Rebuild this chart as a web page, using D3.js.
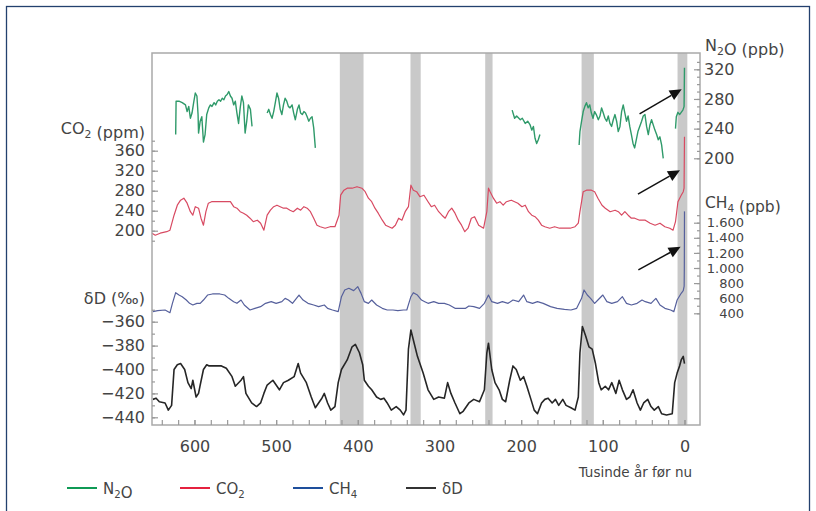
<!DOCTYPE html>
<html>
<head>
<meta charset="utf-8">
<script src="https://cdn.jsdelivr.net/npm/d3@7"></script>
<style>
  body { margin: 0; background: #fff; }
  text { font-family: "DejaVu Sans", "Noto Sans", sans-serif; fill: #444; }
</style>
</head>
<body>
<div id="chart"></div>
<script>
// alder i tusinde år før nu, [alder, værdi]
const n2o = [
  [623,232],[622.5,277],[619,277],[615,275],[611,272],[609,263],[607,270],[605,254],[603,261],[601,275],
  [599,288],[597,284],[595.6,259],[595,234],[593,250],[591,256],[589,222],[587,232],[585,259],[582.5,268],
  [580.5,272],[578.5,270],[576,275],[574,272],[572,277],[570,279],[568,277],[566,281],[564,279],[562,284],
  [560,286],[558,290],[556,284],[554,281],[552,272],[550,277],[548,261],[546,247],[544,268],[542,284],
  [540,275],[538,234],[536,250],[534,272],[531.5,266],[529.5,243],[520,null],
  [511,261],[509,266],[507,259],[505,254],[503,263],[501,275],[499,288],[497,281],[495,266],[493,259],
  [491,272],[489,281],[487,277],[485,270],[483,268],[480.5,272],[478.5,261],[476.5,252],[474,266],[472,272],
  [470,261],[468,259],[466,263],[464,261],[462,256],[460,250],[458,254],[456,256],[454,241],[452,214],[300,null],
  [211,265],[208,254],[205.5,257],[201,252],[198.6,254],[195,247],[192,250],[189,245],[187,238],[185,243],
  [183,227],[181,220],[179,225],[177,232],[150,null],
  [129,218],[128,236],[126,250],[124,263],[122,270],[120,275],[118,268],[116,272],[114,261],[112,254],
  [110,263],[108,259],[105.5,252],[103.5,257],[101.5,268],[99.4,261],[97.4,254],[95.3,250],[93.3,257],[91.3,247],
  [89.2,243],[87.2,252],[85.1,259],[83.1,250],[81.1,236],[79,243],[77,263],[75,272],[73,261],[71,250],
  [69,257],[67,243],[65,232],[63,220],[61,214],[57,236],[52.5,250],[50.5,257],[48.4,259],[46.4,243],
  [44.3,232],[42.3,245],[40.3,252],[36.2,238],[34.1,232],[32.1,225],[30.1,229],[28,218],[26,200],[18,null],
  [11,240],[10,256],[8,262],[6,259],[4,262],[2,265],[1,268],[0.5,270],[0,322]
];

const co2 = [
  [652,195],[648,191],[642,195],[634,198],[630,201],[625,231],[621,251],[617,261],[613,265],[609,255],
  [605,238],[602,231],[599,248],[595,245],[592,225],[589,211],[586,238],[583,255],[579,258],[570,258],
  [562,258],[556,258],[552,248],[548,245],[544,238],[540,235],[536,231],[532,225],[528,218],[523,221],
  [519,215],[515,201],[511,231],[507,241],[503,248],[499,251],[495,248],[491,245],[487,245],[483,241],
  [479,238],[474,245],[470,241],[466,248],[462,245],[458,238],[454,225],[450,211],[446,208],[440,205],
  [434,208],[428,208],[423,231],[421,271],[417,281],[413,285],[407,285],[401,288],[395,285],[391,278],
  [387,265],[383,258],[379,245],[375,235],[370,221],[366,211],[362,208],[358,205],[354,211],[350,225],
  [346,221],[342,238],[338,248],[335,291],[332,281],[328,278],[324,268],[319,271],[314,258],[310,248],
  [306,251],[301,238],[297,231],[293,225],[289,238],[285,245],[281,235],[277,221],[273,211],[269,198],
  [265,205],[261,225],[257,228],[252,211],[246,205],[242,238],[240,285],[238,278],[234,265],[230,255],
  [226,258],[222,251],[218,258],[212,261],[208,258],[204,255],[199,248],[195,251],[191,238],[187,231],
  [183,228],[179,221],[175,211],[171,208],[165,205],[159,208],[153,205],[146,205],[140,205],[134,208],
  [130,215],[128,238],[124,278],[120,281],[114,281],[110,278],[106,265],[101,251],[97,245],[91,238],
  [85,241],[81,238],[77,231],[73,238],[69,231],[65,225],[61,225],[55,221],[48,221],[42,215],
  [36,211],[30,215],[24,208],[18,205],[14,201],[11,218],[8,258],[4,271],[1.5,278],[0.5,285],[0,388]
];

const ch4 = [
  [651,422],[645,435],[636,444],[630,408],[627,532],[623,673],[619,642],[615,620],[610,576],[606,532],
  [602,510],[597,532],[593,532],[589,576],[584,642],[578,656],[569,656],[563,642],[558,598],[552,554],
  [548,532],[543,576],[539,510],[532,444],[526,466],[519,488],[513,532],[506,554],[500,532],[493,554],
  [489,598],[485,576],[480,532],[472,642],[467,576],[461,532],[454,510],[448,488],[441,510],[437,466],
  [431,444],[424,422],[420,620],[416,709],[411,731],[405,700],[400,753],[396,664],[392,554],[387,532],
  [383,576],[377,510],[370,466],[364,444],[357,444],[351,435],[344,444],[340,444],[335,620],[332,673],
  [327,642],[322,576],[318,554],[314,532],[307,554],[301,532],[294,532],[288,510],[281,466],[275,466],
  [268,466],[264,497],[258,488],[251,466],[245,532],[240,642],[236,554],[229,532],[223,554],[216,532],
  [210,576],[203,554],[197,642],[193,554],[186,532],[180,554],[173,532],[164,488],[156,466],[147,453],
  [139,444],[132,466],[126,598],[123,709],[119,642],[115,598],[110,532],[106,576],[100,642],[95,554],
  [89,532],[82,554],[76,620],[71,532],[65,510],[58,532],[52,576],[48,554],[41,532],[35,598],
  [30,510],[24,466],[17,444],[13,422],[9,576],[4,665],[1.5,700],[0.4,760],[0.2,1000],[0,1750]
];

const dD = [
  [651,-425],[647,-424],[643,-427],[636,-428],[632,-434],[628,-430],[625,-400],[621,-396],[617,-395],[612,-400],
  [608,-411],[604,-416],[602,-409],[598,-423],[595,-420],[593,-413],[589,-400],[585,-396],[582,-397],[576,-397],
  [567,-397],[561,-399],[554,-406],[550,-414],[543,-409],[540,-406],[537,-420],[530,-428],[524,-431],[519,-428],
  [515,-420],[511,-413],[504,-409],[500,-413],[496,-417],[491,-411],[485,-409],[478,-406],[473,-395],[470,-403],
  [463,-411],[457,-423],[452,-432],[448,-428],[444,-424],[441,-420],[437,-428],[433,-434],[428,-431],[424,-411],
  [420,-400],[413,-392],[407,-381],[403,-379],[398,-386],[394,-396],[392,-409],[387,-414],[383,-417],[377,-423],
  [372,-425],[368,-424],[364,-428],[359,-434],[353,-431],[348,-434],[344,-438],[341,-434],[338,-383],[335,-367],
  [331,-378],[327,-389],[320,-403],[314,-417],[307,-425],[301,-423],[294,-424],[290,-411],[286,-420],[281,-428],
  [275,-437],[271,-435],[264,-428],[258,-425],[251,-427],[245,-417],[242,-386],[240,-378],[236,-400],[232,-411],
  [227,-417],[223,-425],[219,-427],[214,-409],[210,-397],[206,-400],[201,-409],[197,-406],[193,-414],[188,-425],
  [184,-434],[180,-437],[175,-428],[171,-425],[167,-424],[162,-428],[158,-425],[154,-430],[149,-425],[145,-430],
  [139,-432],[134,-434],[130,-423],[128,-386],[125,-364],[121,-372],[117,-381],[113,-383],[109,-395],[105,-411],
  [102,-417],[97,-414],[93,-417],[89,-411],[84,-420],[80,-409],[76,-417],[71,-425],[67,-423],[63,-417],
  [58,-428],[54,-434],[50,-428],[45,-425],[41,-431],[37,-434],[32,-431],[28,-437],[22,-438],[15,-437],
  [12,-411],[9,-403],[6,-397],[4,-392],[1.5,-389],[0,-395]
];

// mellemistider (grå bånd), [fra, til]
const bands = [[422,393],[335.5,323],[244,235],[126,111],[8.5,-3.5]];

const xTicks = [600, 500, 400, 300, 200, 100, 0];
const xMinor = d3.range(640, -1, -20);
const co2Ticks = [200, 240, 280, 320, 360];
const co2Minor = d3.range(180, 381, 20);
const dDTicks = [-440, -420, -400, -380, -360];
const dDMinor = d3.range(-440, -349, 10);
const n2oTicks = [200, 240, 280, 320];
const n2oMinor = d3.range(200, 331, 10);
const ch4Ticks = [400, 600, 800, 1000, 1200, 1400, 1600];
const ch4Minor = d3.range(400, 1701, 100);

// pile: [alder, værdi] på den pågældende akse
const arrows = [
  { axis: 'n2o', from: [55, 260], to: [3.4, 293] },
  { axis: 'co2', from: [57, 273], to: [5.5, 321] },
  { axis: 'ch4', from: [56.5, 974], to: [4.7, 1282] }
];

const legend = [
  { parts: ['N', ['2'], 'O'], color: '#0f9a55' },
  { parts: ['CO', ['2']], color: '#e5213f' },
  { parts: ['CH', ['4']], color: '#1e4f9c' },
  { parts: ['δD'], color: '#333' }
];

const width = 816, height = 511;
const plotL = 152, plotR = 700, plotT = 53, plotB = 425;

const svg = d3.select('#chart').append('svg')
  .attr('width', width)
  .attr('height', height);

// ramme om hele figuren
svg.append('rect')
  .attr('x', 6.5).attr('y', 6.5)
  .attr('width', 803).attr('height', 520)
  .attr('fill', 'none')
  .attr('stroke', '#23406e')
  .attr('stroke-width', 1.3);

const x = d3.scaleLinear().domain([652, -19]).range([plotL, plotR]);
const yCO2 = d3.scaleLinear().domain([200, 360]).range([230.7, 150.7]);
const yDD = d3.scaleLinear().domain([-440, -360]).range([417.3, 321.7]);
const yN2O = d3.scaleLinear().domain([200, 320]).range([158.3, 69.3]);
const yCH4 = d3.scaleLinear().domain([400, 1600]).range([313.3, 222.7]);
const scales = { n2o: yN2O, co2: yCO2, ch4: yCH4 };

const dk = d3.formatLocale({ decimal: ',', thousands: '.', grouping: [3], currency: ['', ''] });
const fmtThousands = dk.format(',');

// tekst med sænket skrift
function subText(sel, parts) {
  parts.forEach((p) => {
    if (Array.isArray(p)) {
      sel.append('tspan').attr('font-size', '0.68em').attr('dy', 4).text(p[0]);
      sel.append('tspan').attr('dy', -4).text('');
    } else {
      sel.append('tspan').text(p);
    }
  });
  return sel;
}

// grå bånd
svg.append('g').selectAll('rect')
  .data(bands)
  .enter()
  .append('rect')
  .attr('x', (d) => x(d[0]))
  .attr('y', plotT)
  .attr('width', (d) => x(d[1]) - x(d[0]))
  .attr('height', plotB - plotT)
  .attr('fill', '#c9c9c9');

// kurver
const curves = [
  { data: dD, y: yDD, color: '#262626', w: 1.6 },
  { data: ch4, y: yCH4, color: '#56609c', w: 1.2 },
  { data: co2, y: yCO2, color: '#d84a62', w: 1.2 },
  { data: n2o, y: yN2O, color: '#2f9a6a', w: 1.4 }
];
curves.forEach((c) => {
  const line = d3.line()
    .defined((d) => d[1] != null)
    .x((d) => x(d[0]))
    .y((d) => c.y(d[1]));
  svg.append('path')
    .datum(c.data)
    .attr('d', line)
    .attr('fill', 'none')
    .attr('stroke', c.color)
    .attr('stroke-width', c.w)
    .attr('stroke-linejoin', 'round');
});

// plotramme
svg.append('rect')
  .attr('x', plotL).attr('y', plotT)
  .attr('width', plotR - plotL).attr('height', plotB - plotT)
  .attr('fill', 'none')
  .attr('stroke', '#a9a9a9')
  .attr('stroke-width', 1.5);

function cleanAxis(g) {
  g.select('.domain').remove();
  g.selectAll('line').attr('stroke', '#999').attr('stroke-width', 1.2);
  g.selectAll('text').attr('font-size', 16).attr('fill', '#444');
}

// venstre akser
svg.append('g').attr('transform', `translate(${plotL},0)`)
  .call(d3.axisLeft(yCO2).tickValues(co2Minor).tickSize(-3).tickFormat(''))
  .call(cleanAxis);
svg.append('g').attr('transform', `translate(${plotL},0)`)
  .call(d3.axisLeft(yCO2).tickValues(co2Ticks).tickSize(-6).tickPadding(7))
  .call(cleanAxis);
svg.append('g').attr('transform', `translate(${plotL},0)`)
  .call(d3.axisLeft(yDD).tickValues(dDMinor).tickSize(-3).tickFormat(''))
  .call(cleanAxis);
svg.append('g').attr('transform', `translate(${plotL},0)`)
  .call(d3.axisLeft(yDD).tickValues(dDTicks).tickSize(-6).tickPadding(7))
  .call(cleanAxis);

// x-akse
svg.append('g').attr('transform', `translate(0,${plotB})`)
  .call(d3.axisBottom(x).tickValues(xMinor).tickSize(-5).tickFormat(''))
  .call(cleanAxis);
svg.append('g').attr('transform', `translate(0,${plotB})`)
  .call(d3.axisBottom(x).tickValues(xTicks).tickSize(-5).tickPadding(16))
  .call(cleanAxis);

// højre akser
svg.append('g').attr('transform', `translate(${plotR},0)`)
  .call(d3.axisRight(yN2O).tickValues(n2oMinor).tickSize(-3).tickFormat(''))
  .call(cleanAxis);
svg.append('g').attr('transform', `translate(${plotR},0)`)
  .call(d3.axisRight(yN2O).tickValues(n2oTicks).tickSize(-6).tickPadding(4))
  .call(cleanAxis);
svg.append('g').attr('transform', `translate(${plotR},0)`)
  .call(d3.axisRight(yCH4).tickValues(ch4Minor).tickSize(-3).tickFormat(''))
  .call(cleanAxis);
svg.append('g').attr('transform', `translate(${plotR},0)`)
  .call(d3.axisRight(yCH4).tickValues(ch4Ticks).tickSize(-6).tickFormat(fmtThousands))
  .call(cleanAxis)
  .call((g) => g.selectAll('text').attr('x', 44).attr('text-anchor', 'end').attr('font-size', 13));

// aksetitler
subText(svg.append('text').attr('x', 145).attr('y', 133.5).attr('text-anchor', 'end').attr('font-size', 16),
  ['CO', ['2'], ' (ppm)']);
svg.append('text').attr('x', 145).attr('y', 303.5).attr('text-anchor', 'end').attr('font-size', 16)
  .text('δD (‰)');
subText(svg.append('text').attr('x', 705).attr('y', 50.5).attr('font-size', 16),
  ['N', ['2'], 'O (ppb)']);
subText(svg.append('text').attr('x', 705).attr('y', 207.5).attr('font-size', 15.5),
  ['CH', ['4'], ' (ppb)']);
svg.append('text').attr('x', 692).attr('y', 477).attr('text-anchor', 'end').attr('font-size', 13.5)
  .text('Tusinde år før nu');

// pile
arrows.forEach((a) => {
  const ys = scales[a.axis];
  const x1 = x(a.from[0]), y1 = ys(a.from[1]);
  const x2 = x(a.to[0]), y2 = ys(a.to[1]);
  const ang = Math.atan2(y2 - y1, x2 - x1);
  const hl = 12, hw = 5.5;
  const bx = x2 - hl * Math.cos(ang), by = y2 - hl * Math.sin(ang);
  svg.append('line')
    .attr('x1', x1).attr('y1', y1)
    .attr('x2', bx).attr('y2', by)
    .attr('stroke', '#111')
    .attr('stroke-width', 1.5);
  svg.append('path')
    .attr('d', `M${x2},${y2} L${bx - hw * Math.sin(ang)},${by + hw * Math.cos(ang)} L${bx + hw * Math.sin(ang)},${by - hw * Math.cos(ang)} Z`)
    .attr('fill', '#111');
});

// signaturforklaring
const lg = svg.append('g').selectAll('g')
  .data(legend)
  .enter()
  .append('g')
  .attr('transform', (d, i) => `translate(${67 + i * 113},488)`);
lg.append('line')
  .attr('x1', 0).attr('x2', 30)
  .attr('stroke', (d) => d.color)
  .attr('stroke-width', 2);
lg.each(function (d) {
  subText(d3.select(this).append('text').attr('x', 36).attr('y', 5.5).attr('font-size', 15), d.parts);
});
</script>
</body>
</html>
